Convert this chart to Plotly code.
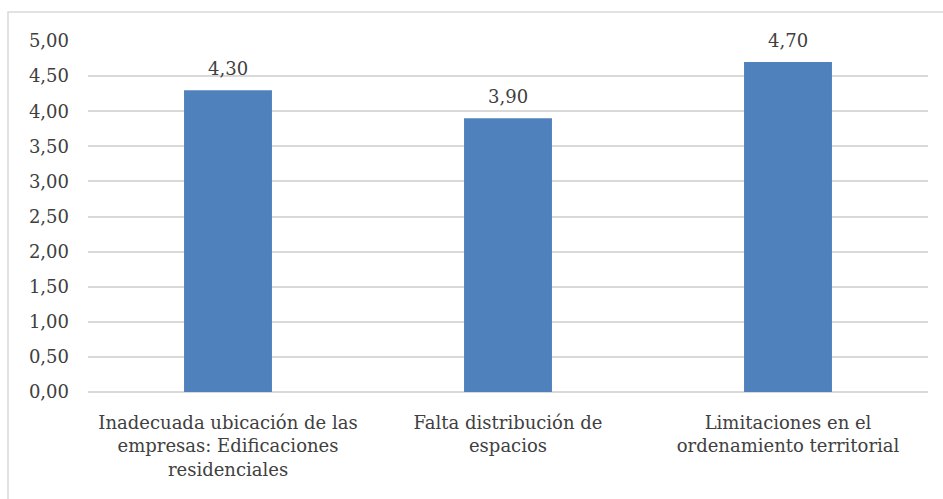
import plotly.graph_objects as go

# Category labels (line breaks as they wrap under each bar)
categories = [
    "Inadecuada ubicación de las<br>empresas: Edificaciones<br>residenciales",
    "Falta distribución de<br>espacios",
    "Limitaciones en el<br>ordenamiento territorial",
]
values = [4.30, 3.90, 4.70]
y_ticks = [0, 0.5, 1, 1.5, 2, 2.5, 3, 3.5, 4, 4.5, 5]

W, H = 943, 499
L, R, T, B = 88, 15, 41, 107
plot_w = W - L - R
plot_h = H - T - B

text_color = "#404040"
font_family = "DejaVu Serif"
fsize = 18

fig = go.Figure(
    go.Bar(
        x=categories,
        y=values,
        marker=dict(color="#4F81BD", line=dict(width=0)),
        width=0.314,
        hoverinfo="x+y",
    )
)

# Value labels above each bar
for c, v in zip(categories, values):
    fig.add_annotation(
        x=c, y=v,
        text=f"{v:.2f}".replace(".", ","),
        showarrow=False,
        yanchor="bottom",
        yshift=9,
        font=dict(size=fsize, color=text_color, family=font_family),
    )

# Outer chart frame, extending past the right and bottom edges
fig.add_shape(
    type="rect",
    xref="paper", yref="paper",
    x0=(8 - L) / plot_w, x1=(W + 5 - L) / plot_w,
    y0=-(H + 5 - T - plot_h) / plot_h, y1=(H - B - 12) / plot_h,
    line=dict(color="#d9d9d9", width=1.5),
    layer="below",
)

fig.update_layout(
    width=W, height=H,
    margin=dict(l=L, r=R, t=T, b=B),
    paper_bgcolor="white",
    plot_bgcolor="white",
    separators=",.",
    showlegend=False,
    bargap=0.686,
    font=dict(family=font_family, size=fsize, color=text_color),
    xaxis=dict(
        showgrid=False,
        showline=False,
        ticks="",
        ticklabelstandoff=18,
        tickfont=dict(size=fsize, color=text_color, family=font_family),
    ),
    yaxis=dict(
        range=[0, 5],
        tickvals=y_ticks,
        tickformat=".2f",
        showgrid=True,
        gridcolor="#d9d9d9",
        gridwidth=1.5,
        zeroline=True,
        zerolinecolor="#d9d9d9",
        zerolinewidth=1.5,
        showline=False,
        ticks="",
        ticklabelstandoff=18,
        tickfont=dict(size=fsize, color=text_color, family=font_family),
    ),
)

fig.write_html("out.html")
